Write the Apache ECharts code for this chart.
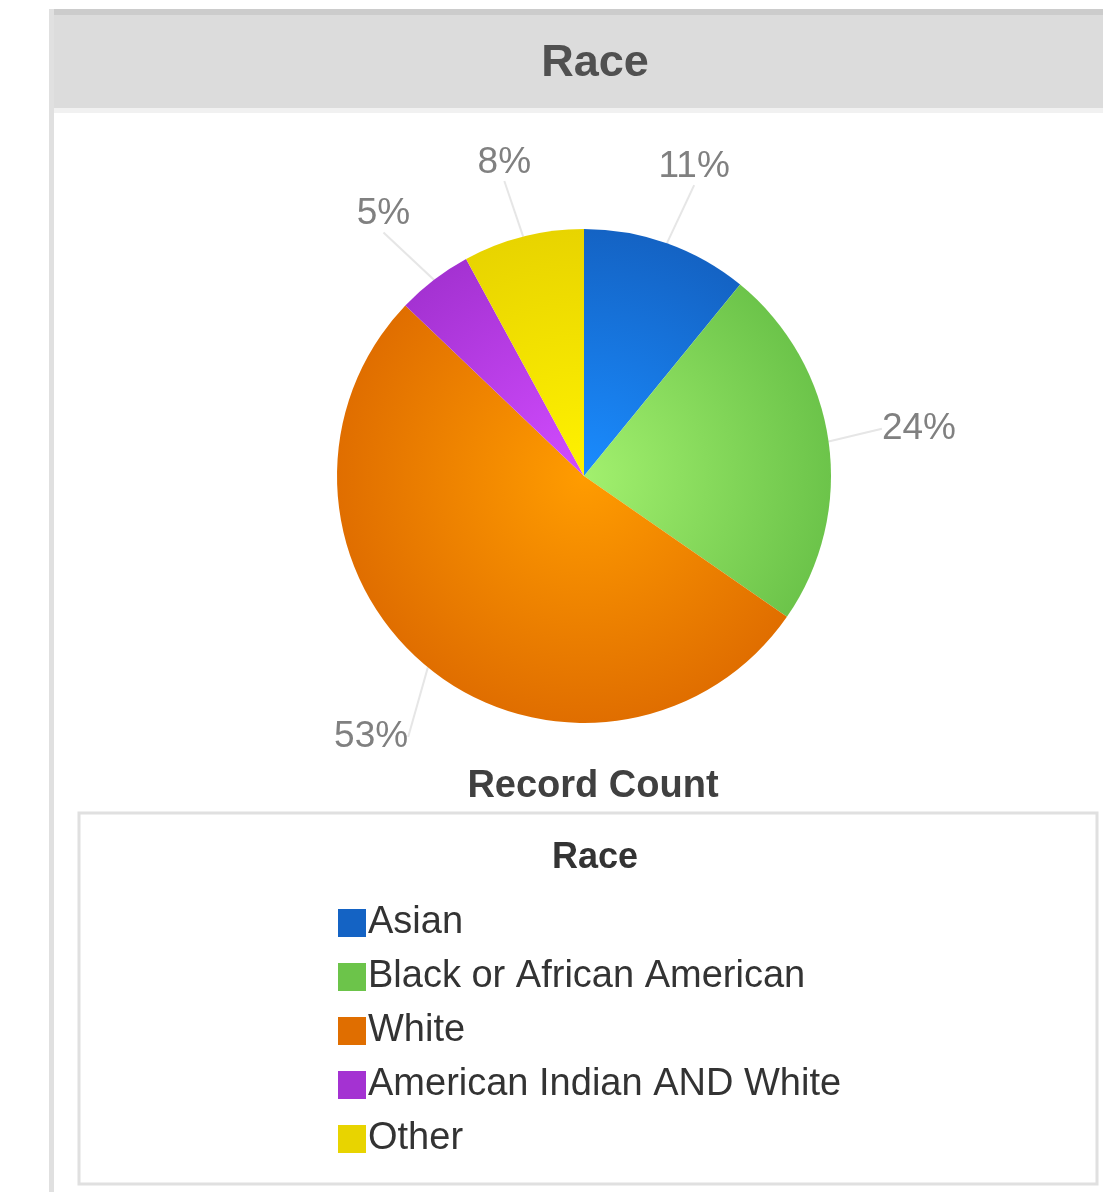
<!DOCTYPE html>
<html>
<head>
<meta charset="utf-8">
<script src="https://cdn.jsdelivr.net/npm/echarts@6/dist/echarts.min.js"></script>
<style>
html,body{margin:0;padding:0;background:#fff;}
#chart{width:1103px;height:1197px;}
</style>
</head>
<body>
<div id="chart"></div>
<script>
const categories = ['Asian', 'Black or African American', 'White', 'American Indian AND White', 'Other'];
const percents = [11, 24, 53, 5, 8];
const centerColors = ['#1a8cff', '#a2f06e', '#ff9c00', '#d24cff', '#fff200'];
const edgeColors = ['#1463c4', '#6cc44a', '#e06e00', '#a432d2', '#e8d400'];

const cx = 584, cy = 476, R = 247;

const chart = echarts.init(document.getElementById('chart'));

const data = categories.map((name, i) => ({
  name: name,
  value: percents[i],
  itemStyle: {
    color: {
      type: 'radial', x: cx, y: cy, r: R, global: true,
      colorStops: [
        { offset: 0, color: centerColors[i] },
        { offset: 1, color: edgeColors[i] }
      ]
    }
  }
}));

const option = {
  animation: false,
  backgroundColor: '#ffffff',
  color: centerColors,
  graphic: [
    { type: 'rect', shape: { x: 49, y: 9, width: 1054, height: 100 }, style: { fill: '#dcdcdc' }, z: 0 },
    { type: 'rect', shape: { x: 49, y: 9, width: 1054, height: 6 }, style: { fill: '#cccccc' }, z: 0 },
    { type: 'rect', shape: { x: 49, y: 108, width: 1054, height: 5 }, style: { fill: '#f1f1f1' }, z: 0 },
    { type: 'rect', shape: { x: 49, y: 9, width: 5, height: 1183 }, style: { fill: '#e0e0e0' }, z: 0 },
    { type: 'rect', shape: { x: 79, y: 813, width: 1018, height: 371 }, style: { fill: 'none', stroke: '#e0e0e0', lineWidth: 3 }, z: 0 }
  ],
  title: [
    { text: 'Race', left: 590, top: 36, textAlign: 'center',
      textStyle: { fontFamily: 'Liberation Sans', fontSize: 45, fontWeight: 'bold', color: '#505050' } },
    { text: 'Record Count', left: 588, top: 763, textAlign: 'center',
      textStyle: { fontFamily: 'Liberation Sans', fontSize: 38, fontWeight: 'bold', color: '#404040' } },
    { text: 'Race', left: 590, top: 835, textAlign: 'center',
      textStyle: { fontFamily: 'Liberation Sans', fontSize: 36, fontWeight: 'bold', color: '#333333' } }
  ],
  legend: {
    orient: 'vertical',
    left: 333, top: 899,
    itemWidth: 28, itemHeight: 28, itemGap: 16,
    icon: 'rect',
    data: categories.map((n, i) => ({ name: n, itemStyle: { color: edgeColors[i] } })),
    textStyle: { fontFamily: 'Liberation Sans', fontSize: 38, lineHeight: 36, color: '#333333', padding: [0, 0, 0, -3] }
  },
  series: [{
    type: 'pie',
    center: [cx, cy],
    radius: R,
    startAngle: 90,
    clockwise: true,
    data: data,
    label: {
      show: true, position: 'outside',
      formatter: '{c}%',
      fontFamily: 'Liberation Sans', fontSize: 37, color: '#808080'
    },
    labelLine: { show: true, length: 50, length2: 0, lineStyle: { color: '#e6e6e6', width: 2 } },
    labelLayout: function (params) {
      const pts = params.labelLinePoints;
      if (!pts) return {};
      const end = pts[1];
      let ux = end[0] - cx, uy = end[1] - cy;
      const d = Math.sqrt(ux * ux + uy * uy) || 1;
      ux /= d; uy /= d;
      const hw = params.labelRect.width / 2, hh = params.labelRect.height / 2;
      const off = Math.abs(ux) * hw + Math.abs(uy) * hh + 2;
      return {
        x: end[0] + ux * off,
        y: end[1] + uy * off,
        align: 'center',
        verticalAlign: 'middle'
      };
    },
    itemStyle: { borderWidth: 0 }
  }]
};
chart.setOption(option);
</script>
</body>
</html>
